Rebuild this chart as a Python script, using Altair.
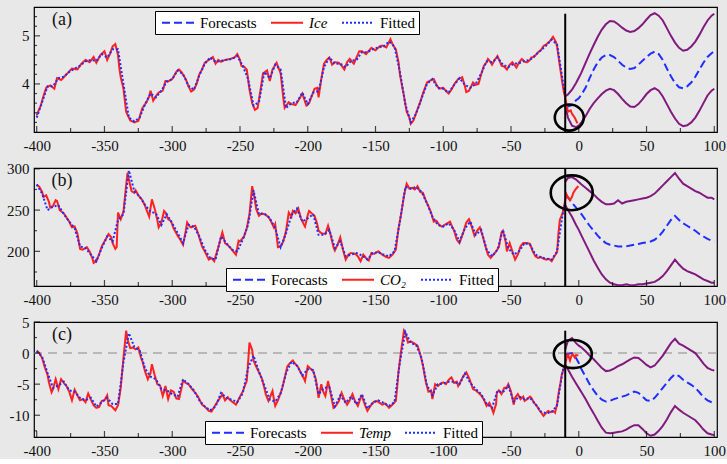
import altair as alt
import pandas as pd

SERIF = "Liberation Serif"
BACKGROUND = "#e8e8e8"
BLUE = "#1f2dff"
RED = "#ff2020"
PURPLE = "#82197f"
INK = "#111111"

PLOT_W = 683
T_DOMAIN = [-402, 102]
X_MAJOR = [-400, -350, -300, -250, -200, -150, -100, -50, 0, 50, 100]
X_MINOR = [-375, -325, -275, -225, -175, -125, -75, -25, 25, 75]

# forecast horizon (shared by all three panels)
FC_T = [-10, -8, -5, -2, 0, 2, 5, 8, 11, 14, 17, 20, 23, 26, 29, 32, 35, 38, 41, 44,
        47, 50, 53, 56, 59, 62, 65, 68, 71, 74, 77, 80, 83, 86, 89, 92, 95, 98, 100]

# in-sample fitted values are sampled on this grid
FIT_T = [-400, -396, -392, -388, -384, -380, -376, -372, -368, -364,
         -360, -356, -352, -348, -344, -340, -336, -332, -328, -324,
         -320, -316, -312, -308, -304, -300, -296, -292, -288, -284,
         -280, -276, -272, -268, -264, -260, -256, -252, -248, -244,
         -240, -236, -232, -228, -224, -220, -216, -212, -208, -204,
         -200, -196, -192, -188, -184, -180, -176, -172, -168, -164,
         -160, -156, -152, -148, -144, -140, -136, -132, -128, -124,
         -120, -116, -112, -108, -104, -100, -96, -92, -88, -84,
         -80, -76, -72, -68, -64, -60, -56, -52, -48, -44,
         -40, -36, -32, -28, -24, -20, -16, -12,
         -10]

# ---------------- Ice ----------------
ICE_T = [-400, -397, -395, -393, -390, -387, -385, -382, -378, -374,
         -370, -367, -364, -361, -358, -356, -353, -350, -348, -346,
         -344, -342, -340, -339, -338, -336, -334, -331, -328, -325,
         -322, -319, -317, -316, -314, -312, -310, -307, -305, -303,
         -300, -297, -295, -293, -290, -288, -286, -284, -282, -280,
         -278, -276, -273, -270, -268, -266, -264, -261, -257, -254,
         -252, -250, -249, -247, -245, -243, -241, -239, -237, -235,
         -233, -230, -228, -226, -223, -220, -218, -217, -214, -212,
         -209, -206, -204, -201, -199, -197, -195, -193, -192, -190,
         -188, -186, -184, -182, -180, -177, -175, -173, -171, -169,
         -166, -164, -162, -160, -157, -153, -150, -147, -145, -142,
         -139, -137, -135, -133, -132, -130, -129, -127, -125, -124,
         -122, -120, -117, -115, -112, -109, -107, -105, -103, -100,
         -98, -96, -94, -91, -89, -86, -84, -83, -81, -78,
         -76, -74, -72, -70, -68, -67, -65, -64, -62, -60,
         -58, -57, -55, -53, -51, -49, -47, -46, -44, -42,
         -40, -38, -36, -35, -33, -30, -28, -26, -24, -21,
         -19, -17, -16, -14, -12, -11, -10, -8, -6, -5,
         -3, -1]
ICE_OBS = [3.35, 3.55, 3.75, 3.92, 3.97, 3.9, 4.12, 4.08, 4.2, 4.32,
           4.3, 4.42, 4.5, 4.45, 4.56, 4.44, 4.6, 4.68, 4.5, 4.62,
           4.78, 4.83, 4.6, 4.32, 4.14, 3.9, 3.42, 3.24, 3.2, 3.23,
           3.5, 3.62, 3.74, 3.86, 3.65, 3.75, 3.82, 3.86, 4.06, 4.05,
           4.1, 4.25, 4.3, 4.24, 4.1, 3.95, 3.84, 3.88, 4.0, 4.2,
           4.3, 4.44, 4.5, 4.56, 4.42, 4.5, 4.46, 4.5, 4.52, 4.55,
           4.62, 4.5, 4.38, 4.36, 4.3, 3.88, 3.6, 3.46, 3.5, 3.85,
           4.22, 4.28, 4.06, 4.3, 4.44, 4.22, 3.7, 3.5, 3.62, 3.58,
           3.56, 3.7, 3.8, 3.55, 3.6, 3.75, 3.9, 3.92, 3.72, 4.1,
           4.42, 4.5, 4.55, 4.4, 4.45, 4.44, 4.38, 4.3, 4.45, 4.52,
           4.42, 4.55, 4.68, 4.68, 4.62, 4.75, 4.7, 4.78, 4.8, 4.76,
           4.93, 4.8, 4.72, 4.45, 4.2, 3.9, 3.75, 3.42, 3.3, 3.17,
           3.24, 3.4, 3.62, 3.8, 4.03, 4.08, 4.1, 3.98, 3.9, 3.92,
           3.85, 3.8, 3.88, 4.03, 4.1, 4.14, 3.95, 3.83, 3.86, 4.03,
           3.98, 4.0, 4.2, 4.38, 4.45, 4.52, 4.45, 4.4, 4.5, 4.58,
           4.45, 4.38, 4.36, 4.3, 4.4, 4.45, 4.38, 4.34, 4.45, 4.52,
           4.46, 4.45, 4.5, 4.55, 4.56, 4.66, 4.7, 4.79, 4.82, 4.9,
           4.98, 4.88, 4.78, 4.38, 4.0, 3.83, 3.72, 3.42, 3.45, 3.38,
           3.3, 3.18]
ICE_FIT = [3.3, 3.62, 3.95, 3.95, 4.12, 4.15, 4.25, 4.32, 4.38, 4.47,
           4.5, 4.48, 4.62, 4.55, 4.72, 4.72, 4.0, 3.3, 3.22, 3.3,
           3.58, 3.8, 3.72, 3.86, 4.05, 4.1, 4.28, 4.2, 3.96, 3.88,
           4.18, 4.42, 4.55, 4.46, 4.48, 4.5, 4.52, 4.58, 4.38, 4.1,
           3.55, 3.62, 4.25, 4.12, 4.4, 4.3, 3.5, 3.6, 3.62, 3.82,
           3.58, 3.82, 3.85, 4.35, 4.55, 4.42, 4.42, 4.35, 4.48, 4.5,
           4.66, 4.66, 4.72, 4.76, 4.78, 4.88, 4.78, 4.25, 3.58, 3.2,
           3.38, 3.7, 4.0, 4.1, 3.92, 3.9, 3.82, 3.98, 4.12, 3.98,
           3.92, 4.0, 4.22, 4.47, 4.45, 4.55, 4.4, 4.35, 4.42, 4.43,
           4.48, 4.5, 4.6, 4.7, 4.8, 4.92, 4.82, 4.1,
           3.75]
ICE_FC = [3.55, 3.53, 3.56, 3.66, 3.7, 3.78, 3.92, 4.12, 4.3, 4.45, 4.55, 4.6, 4.6,
          4.56, 4.48, 4.4, 4.34, 4.31, 4.33, 4.4, 4.48, 4.56, 4.63, 4.67, 4.62, 4.5,
          4.32, 4.16, 4.02, 3.93, 3.91, 3.95, 4.03, 4.15, 4.3, 4.44, 4.56, 4.64, 4.68]
ICE_HI = [3.74, 3.78, 3.88, 4.02, 4.13, 4.24, 4.44, 4.63, 4.81, 4.98, 5.13, 5.24, 5.31,
          5.3, 5.24, 5.17, 5.11, 5.08, 5.1, 5.16, 5.24, 5.34, 5.43, 5.47, 5.42, 5.32,
          5.16, 5.0, 4.86, 4.75, 4.69, 4.71, 4.78, 4.88, 5.02, 5.18, 5.32, 5.42, 5.46]
ICE_LO = [3.55, 3.3, 3.13, 3.1, 3.13, 3.2, 3.33, 3.48, 3.6, 3.7, 3.79, 3.86, 3.9,
          3.87, 3.79, 3.69, 3.6, 3.53, 3.52, 3.58, 3.68, 3.79, 3.87, 3.91, 3.86, 3.74,
          3.58, 3.42, 3.28, 3.17, 3.12, 3.14, 3.2, 3.3, 3.44, 3.6, 3.76, 3.86, 3.9]

# ---------------- CO2 ----------------
CO2_T = [-400, -398, -396, -395, -393, -391, -390, -388, -386, -385,
         -383, -380, -378, -376, -374, -372, -370, -368, -366, -363,
         -361, -359, -358, -356, -354, -352, -350, -347, -345, -344,
         -342, -341, -340, -338, -336, -334, -333, -331, -330, -328,
         -327, -325, -322, -320, -317, -315, -313, -311, -310, -308,
         -306, -305, -303, -301, -299, -296, -294, -292, -290, -289,
         -287, -286, -283, -281, -278, -276, -273, -271, -269, -268,
         -266, -263, -261, -258, -255, -253, -251, -250, -247, -245,
         -243, -241, -239, -238, -236, -234, -232, -229, -227, -225,
         -224, -222, -220, -218, -216, -214, -212, -211, -209, -207,
         -205, -203, -202, -200, -199, -197, -195, -193, -192, -190,
         -187, -185, -183, -181, -180, -178, -176, -174, -172, -170,
         -168, -165, -163, -161, -159, -157, -155, -153, -151, -148,
         -145, -142, -140, -137, -135, -133, -131, -129, -128, -127,
         -125, -123, -121, -119, -117, -115, -113, -111, -109, -107,
         -105, -103, -101, -98, -95, -94, -92, -90, -88, -85,
         -83, -81, -79, -77, -75, -73, -71, -69, -67, -65,
         -63, -61, -59, -57, -56, -54, -53, -51, -49, -47,
         -45, -43, -41, -38, -36, -34, -32, -30, -28, -26,
         -24, -22, -20, -18, -16, -15, -14, -12, -11, -10,
         -9, -8, -6.5, -5, -4, -2, -0.3]
CO2_OBS = [281, 278, 272, 266, 268, 260, 253, 255, 262, 261,
           250, 246, 241, 236, 229, 230, 222, 203, 202, 205,
           200, 192, 186, 188, 196, 206, 212, 221, 217, 210,
           203, 205, 247, 239, 248, 280, 295, 280, 273, 271,
           274, 268, 262, 255, 242, 263, 252, 238, 229, 235,
           249, 247, 239, 237, 228, 219, 214, 208, 225, 235,
           230, 229, 231, 222, 206, 200, 190, 192, 188, 194,
           205, 223, 210, 206, 200, 196, 213, 212, 218, 228,
           245, 279, 262, 251, 243, 246, 245, 242, 236, 229,
           233, 205, 206, 212, 225, 247, 242, 249, 246, 252,
           240, 233, 230, 244, 249, 246, 243, 233, 225, 222,
           221, 231, 219, 205, 201, 208, 217, 202, 190, 196,
           198, 197, 194, 188, 196, 192, 189, 198, 197, 200,
           196, 193, 192, 197, 202, 228, 246, 267, 275, 282,
           276, 277, 275, 279, 272, 271, 262, 255, 247, 236,
           237, 232, 230, 233, 236, 232, 225, 214, 210, 224,
           235, 239, 230, 219, 225, 229, 219, 207, 196, 192,
           196, 200, 205, 223, 225, 212, 200, 210, 200, 190,
           196, 206, 210, 210, 209, 200, 194, 192, 193, 191,
           190, 191, 188, 194, 199, 222, 238, 246, 253, 262,
           269, 265, 262, 266, 271, 276, 279]
CO2_FIT = [281, 270, 250, 254, 256, 245, 236, 228, 206, 204,
           196, 188, 204, 218, 212, 238, 245, 298, 273, 266,
           256, 248, 246, 232, 245, 234, 222, 210, 232, 230,
           218, 202, 192, 190, 218, 210, 202, 200, 214, 232,
           274, 245, 246, 240, 228, 205, 222, 244, 252, 236,
           240, 245, 220, 220, 226, 204, 212, 194, 196, 198,
           195, 190, 198, 199, 196, 194, 200, 236, 278, 276,
           278, 272, 258, 242, 232, 230, 234, 226, 212, 228,
           236, 220, 226, 202, 194, 202, 226, 204, 196, 200,
           210, 208, 196, 193, 191, 190, 200, 244,
           258]
CO2_FC = [268, 266, 259, 253, 249, 245, 238, 231, 225, 219, 214, 210, 208,
          207, 206, 206, 206, 207, 208, 209, 210, 211, 212, 214, 218, 224,
          231, 238, 243, 238, 234, 231, 228, 225, 221, 218, 215, 213, 212]
CO2_HI = [284, 289, 290, 287, 284, 281, 277, 273, 269, 264, 260, 257, 257,
          258, 262, 258, 260, 261, 262, 263, 264, 265, 267, 270, 275, 280,
          285, 290, 295, 288, 282, 279, 276, 273, 271, 268, 265, 265, 263]
CO2_LO = [256, 250, 242, 232, 226, 219, 209, 199, 189, 180, 172, 166, 162,
          160, 159, 159, 160, 159, 159, 160, 160, 161, 162, 163, 166, 170,
          176, 183, 190, 184, 179, 176, 174, 172, 169, 166, 164, 162, 162]

# ---------------- Temperature ----------------
TEMP_T = [-400, -398, -396, -394, -392, -391, -389, -388, -386, -385,
          -384, -382, -380, -378, -376, -374, -372, -370, -368, -366,
          -364, -362, -360, -358, -356, -354, -352, -350, -348, -347,
          -345, -342, -340, -338, -336, -334, -333, -331, -329, -327,
          -325, -323, -322, -320, -318, -316, -315, -313, -311, -309,
          -307, -306, -305, -303, -301, -299, -297, -295, -293, -292,
          -290, -288, -286, -283, -281, -278, -276, -273, -271, -268,
          -266, -264, -263, -261, -259, -258, -256, -254, -253, -250,
          -248, -246, -245, -244, -243, -241, -240, -238, -236, -234,
          -232, -231, -229, -228, -226, -225, -224, -222, -219, -217,
          -215, -213, -211, -209, -207, -205, -203, -202, -200, -198,
          -196, -194, -192, -190, -189, -187, -185, -183, -181, -179,
          -177, -175, -173, -171, -169, -167, -165, -163, -161, -160,
          -158, -156, -154, -153, -151, -149, -147, -145, -143, -140,
          -138, -135, -134, -133, -131, -129, -128, -126, -124, -121,
          -119, -117, -115, -113, -111, -109, -108, -106, -104, -102,
          -100, -98, -96, -94, -92, -90, -89, -87, -85, -83,
          -81, -79, -78, -76, -74, -72, -70, -68, -66, -64,
          -63, -61, -60.5, -59, -57, -55, -53, -52, -50, -48,
          -47, -45, -43, -41, -40, -38, -36, -35, -33, -31,
          -29, -27, -26, -24, -22.5, -21, -19, -17.5, -16, -15,
          -13.5, -12.5, -11, -10, -9, -8, -6.5, -5.5, -4.5, -3,
          -2, -0.3]
TEMP_OBS = [0.4, 0.0, -0.8, -2.3, -3.5, -4.7, -6.3, -5.8, -4.2, -5.0,
            -5.8, -4.2, -4.8, -5.3, -6.2, -7.6, -5.9, -6.8, -7.6, -7.4,
            -7.9, -6.5, -7.5, -8.4, -8.8, -8.7, -7.7, -7.6, -6.8, -8.4,
            -8.5, -9.2, -8.4, -5.6, -0.8, 3.6, 2.2, 0.8, 0.9, 0.6,
            0.9, -0.8, -1.3, -3.0, -4.2, -3.2, -1.8, -3.5, -5.0, -5.2,
            -6.9, -6.2, -5.3, -7.4, -6.0, -6.2, -7.3, -7.4, -5.5, -4.4,
            -4.8, -5.0, -5.6, -6.4, -7.0, -8.3, -8.6, -9.3, -9.4, -8.3,
            -7.6, -7.0, -6.6, -7.6, -7.1, -7.4, -7.8, -8.1, -8.3, -7.0,
            -6.2, -5.0, -4.5, -1.5, 1.7, 0.5, -1.2, -2.2, -3.1, -4.0,
            -5.6, -6.6, -7.7, -7.2, -6.1, -7.4, -8.5, -7.6, -5.8, -4.0,
            -2.1, -1.6, -1.2, -1.8, -2.3, -3.2, -4.0, -4.5, -2.1, -2.5,
            -2.9, -4.2, -7.2, -5.0, -6.0, -6.9, -4.5, -6.6, -8.8, -8.4,
            -7.7, -6.4, -7.5, -8.3, -7.6, -6.6, -7.8, -8.5, -7.2, -6.9,
            -8.2, -9.3, -8.6, -8.3, -7.8, -7.7, -8.0, -8.3, -8.1, -8.8,
            -8.4, -7.7, -5.5, -2.9, 0.5, 3.6, 3.2, 1.7, 1.9, 1.5,
            1.2, -0.2, -2.0, -4.5, -6.2, -6.0, -7.4, -5.0, -5.3, -4.9,
            -4.7, -5.0, -4.3, -3.9, -4.8, -4.6, -5.3, -4.5, -3.6, -3.1,
            -4.0, -5.2, -5.8, -6.0, -6.4, -6.8, -7.5, -8.5, -8.0, -9.0,
            -9.6, -8.2, -6.4, -6.0, -6.6, -5.6, -5.5, -5.0, -6.2, -8.3,
            -7.2, -6.6, -7.4, -7.0, -7.7, -7.4, -7.0, -7.2, -8.0, -8.5,
            -9.2, -9.8, -10.1, -9.6, -9.3, -9.5, -9.3, -9.6, -8.2, -6.6,
            -4.8, -3.4, -2.5, -1.8, -0.8, -0.2, -1.2, -0.5, -0.2, -0.7,
            -0.3, -0.4]
TEMP_FIT = [0.3, -0.6, -3.2, -5.6, -5.2, -4.6, -6.0, -6.2, -7.2, -7.6,
            -7.2, -8.6, -7.9, -7.2, -8.2, -8.2, -1.5, 3.2, 1.0, 0.4,
            -2.5, -3.8, -4.2, -5.8, -6.0, -6.6, -7.0, -4.2, -5.0, -6.0,
            -7.6, -8.6, -9.2, -8.6, -6.4, -7.2, -7.5, -7.9, -6.5, -2.4,
            -0.4, -3.0, -5.2, -7.5, -7.8, -6.5, -3.2, -1.4, -2.0, -3.6,
            -2.6, -2.7, -6.6, -5.6, -5.5, -8.6, -6.8, -8.0, -7.0, -8.2,
            -6.6, -8.9, -8.0, -7.6, -8.0, -8.5, -7.9, -1.5, 3.4, 1.6,
            1.3, -0.8, -5.2, -6.8, -5.0, -4.9, -4.6, -4.6, -5.0, -3.3,
            -4.8, -5.8, -6.6, -8.2, -8.8, -6.1, -6.3, -5.3, -7.8, -7.0,
            -7.4, -7.2, -8.2, -9.4, -9.7, -9.5, -8.4, -3.0,
            -1.5]
TEMP_FC = [-0.3, -0.1, 0.0, -0.8, -1.6, -2.6, -3.8, -5.0, -6.0, -6.9, -7.5, -7.8, -7.7,
           -7.4, -7.2, -7.0, -6.8, -6.5, -6.2, -6.4, -7.0, -7.6, -7.7, -7.2, -6.4, -5.6,
           -4.8, -4.0, -3.4, -3.7, -4.3, -4.7, -5.1, -5.6, -6.3, -7.1, -7.6, -7.9, -8.0]
TEMP_HI = [0.6, 2.0, 2.4, 1.6, 1.2, 0.9, 0.3, -0.4, -1.0, -1.7, -2.4, -2.9, -2.8,
           -2.5, -2.1, -1.8, -1.4, -1.0, -0.7, -0.8, -1.3, -1.9, -2.3, -2.0, -1.2, -0.4,
           0.6, 1.6, 2.3, 1.5, 1.2, 0.8, 0.4, 0.0, -0.8, -1.7, -2.4, -2.7, -2.8]
TEMP_LO = [-1.8, -2.6, -3.8, -4.9, -5.6, -6.3, -7.4, -8.6, -9.7, -10.9, -12.0, -12.8, -12.9,
           -12.8, -12.7, -12.6, -12.3, -11.9, -11.6, -11.6, -12.2, -12.9, -13.3, -13.1, -12.5, -11.7,
           -10.7, -9.5, -8.5, -9.1, -9.6, -10.0, -10.4, -10.8, -11.5, -12.3, -12.9, -13.1, -13.2]

FORECAST_ORIGIN = -10

# Legend line samples: a 32 px stroke on a 15 px symbol cell, so each legend
# row stays as tall as its text.
LEGEND_CELL = 15
LEGEND_LINE = 32
LEGEND_HALF = LEGEND_LINE / LEGEND_CELL
LEGEND_SYMBOL = f"M-{LEGEND_HALF:.4f},0H{LEGEND_HALF:.4f}"
LEGEND_LEAD = 3          # gap before the line sample
LEGEND_GAP = 5           # gap between line sample and its label
SYMBOL_SHIFT = (LEGEND_LINE - LEGEND_CELL) / 2 + LEGEND_LEAD
LABEL_SHIFT = LEGEND_LEAD + LEGEND_LINE + LEGEND_GAP - LEGEND_CELL - SYMBOL_SHIFT


def ellipse_path(ratio):
    return f"M-1,0A1,{ratio} 0 1,1 1,0A1,{ratio} 0 1,1 -1,0Z"


def panel(tag, name, hist_t, hist_v, fit_v, fc_v, hi_v, lo_v,
          y_domain, y_major, y_minor, height, vline_top,
          circle_at, circle_w, circle_ratio, legend_xy, zero_line=False):
    obs = pd.DataFrame({"t": hist_t, "v": hist_v, "series": name})
    fit = pd.DataFrame({"t": FIT_T, "v": fit_v, "series": "Fitted"})
    fc = pd.DataFrame({"t": FC_T, "v": fc_v, "series": "Forecasts"})
    band = pd.DataFrame({
        "t": FC_T + FC_T,
        "v": hi_v + lo_v,
        "bound": ["upper"] * len(FC_T) + ["lower"] * len(FC_T),
    })

    x = alt.X("t:Q", scale=alt.Scale(domain=T_DOMAIN, nice=False, zero=False),
              axis=alt.Axis(values=X_MAJOR, ticks=False, domain=False, grid=False,
                            title=None, labelFont=SERIF, labelFontSize=15,
                            labelColor=INK, labelPadding=6, labelFlush=False,
                            labelOverlap=False, labelExpr="datum.value + ''"))
    y = alt.Y("v:Q", scale=alt.Scale(domain=y_domain, nice=False, zero=False),
              axis=alt.Axis(values=y_major, ticks=False, domain=False, grid=False,
                            title=None, labelFont=SERIF, labelFontSize=15,
                            labelColor=INK, labelPadding=5, labelOverlap=False,
                            labelExpr="datum.value + ''"))

    domain = ["Forecasts", name, "Fitted"]
    leg = alt.Legend(
        orient="none", legendX=legend_xy[0], legendY=legend_xy[1],
        direction="horizontal", title=None,
        fillColor="white", strokeColor="black", padding=3, cornerRadius=0,
        symbolType=LEGEND_SYMBOL, symbolSize=LEGEND_CELL ** 2, symbolStrokeWidth=2,
        symbolOffset=SYMBOL_SHIFT,
        labelFont=SERIF, labelFontSize=15, labelColor="black",
        labelOffset=LABEL_SHIFT,
        columnPadding=10,
        labelFontStyle={"expr": "datum.label == 'Forecasts' || datum.label == 'Fitted' ? 'normal' : 'italic'"},
    )
    color = alt.Color("series:N", title=None, legend=leg,
                      scale=alt.Scale(domain=domain, range=[BLUE, RED, BLUE]))
    dash = alt.StrokeDash("series:N", title=None, legend=leg,
                          scale=alt.Scale(domain=domain, range=[[8, 4], [1, 0], [2, 2]]))

    layers = []
    if zero_line:
        layers.append(
            alt.Chart(pd.DataFrame({"v": [0]}))
            .mark_rule(color="#a8a8a8", strokeDash=[9, 6], strokeWidth=1.5)
            .encode(y=y)
        )
    layers += [
        alt.Chart(band).mark_line(color=PURPLE, strokeWidth=2, clip=True)
        .encode(x=x, y=y, detail="bound:N"),
        alt.Chart(fc).mark_line(strokeWidth=2, clip=True)
        .encode(x=x, y=y, color=color, strokeDash=dash),
        alt.Chart(obs).mark_line(strokeWidth=2, clip=True)
        .encode(x=x, y=y, color=color, strokeDash=dash),
        alt.Chart(fit).mark_line(strokeWidth=2, clip=True)
        .encode(x=x, y=y, color=color, strokeDash=dash),
        alt.Chart(pd.DataFrame({"t": [FORECAST_ORIGIN], "v": [vline_top], "v2": [y_domain[0]]}))
        .mark_rule(color="black", strokeWidth=2)
        .encode(x=x, y=y, y2=alt.Y2("v2:Q")),
        alt.Chart(pd.DataFrame({"t": [circle_at[0]], "v": [circle_at[1]]}))
        .mark_point(shape=ellipse_path(circle_ratio), size=circle_w ** 2, filled=False,
                    stroke="black", strokeWidth=2.6, opacity=1)
        .encode(x=x, y=y),
        # inward ticks along the bottom and left edges
        alt.Chart(pd.DataFrame({"t": X_MAJOR})).mark_tick(
            orient="vertical", size=6, thickness=1.2, color="black")
        .encode(x=x, y=alt.value(height - 3)),
        alt.Chart(pd.DataFrame({"t": X_MINOR})).mark_tick(
            orient="vertical", size=4, thickness=1.2, color="black")
        .encode(x=x, y=alt.value(height - 2)),
        alt.Chart(pd.DataFrame({"v": y_major})).mark_tick(
            orient="horizontal", size=6, thickness=1.2, color="black")
        .encode(y=y, x=alt.value(3)),
        alt.Chart(pd.DataFrame({"v": y_minor})).mark_tick(
            orient="horizontal", size=3, thickness=1.2, color="black")
        .encode(y=y, x=alt.value(1.5)),
        alt.Chart(pd.DataFrame({"label": [tag]}))
        .mark_text(font=SERIF, fontSize=18, color=INK)
        .encode(text="label:N", x=alt.value(28), y=alt.value(13)),
    ]
    return alt.layer(*layers).properties(width=PLOT_W, height=height)


panel_a = panel(
    "(a)", "Ice", ICE_T, ICE_OBS, ICE_FIT, ICE_FC, ICE_HI, ICE_LO,
    y_domain=[3.0, 5.6], y_major=[4, 5],
    y_minor=[3.2, 3.4, 3.6, 3.8, 4.2, 4.4, 4.6, 4.8, 5.2, 5.4],
    height=125, vline_top=5.46, circle_at=(-7, 3.3), circle_w=29, circle_ratio=0.9,
    legend_xy=(121, 4),
)
panel_b = panel(
    "(b)", "CO\u2082", CO2_T, CO2_OBS, CO2_FIT, CO2_FC, CO2_HI, CO2_LO,
    y_domain=[158, 301], y_major=[200, 250, 300], y_minor=[175, 225, 275],
    height=118, vline_top=300, circle_at=(-5.2, 271), circle_w=42, circle_ratio=0.83,
    legend_xy=(192, 100),
)
panel_c = panel(
    "(c)", "Temp", TEMP_T, TEMP_OBS, TEMP_FIT, TEMP_FC, TEMP_HI, TEMP_LO,
    y_domain=[-13.5, 5], y_major=[-10, -5, 0, 5], y_minor=[-12.5, -7.5, -2.5, 2.5],
    height=115, vline_top=3.6, circle_at=(-4.4, -0.16), circle_w=38, circle_ratio=0.74,
    legend_xy=(171, 99), zero_line=True,
)

chart = (
    alt.vconcat(panel_a, panel_b, panel_c, spacing=36, bounds="flush")
    .resolve_scale(x="independent", y="independent",
                   color="independent", strokeDash="independent")
    .resolve_legend(color="independent", strokeDash="independent")
    .properties(background=BACKGROUND, padding={"left": 5, "top": 6, "right": 0, "bottom": 0})
    .configure_view(stroke="black", strokeWidth=1.2, fill=BACKGROUND)
)

chart.save("out.html", embed_options={"renderer": "svg", "actions": False})
